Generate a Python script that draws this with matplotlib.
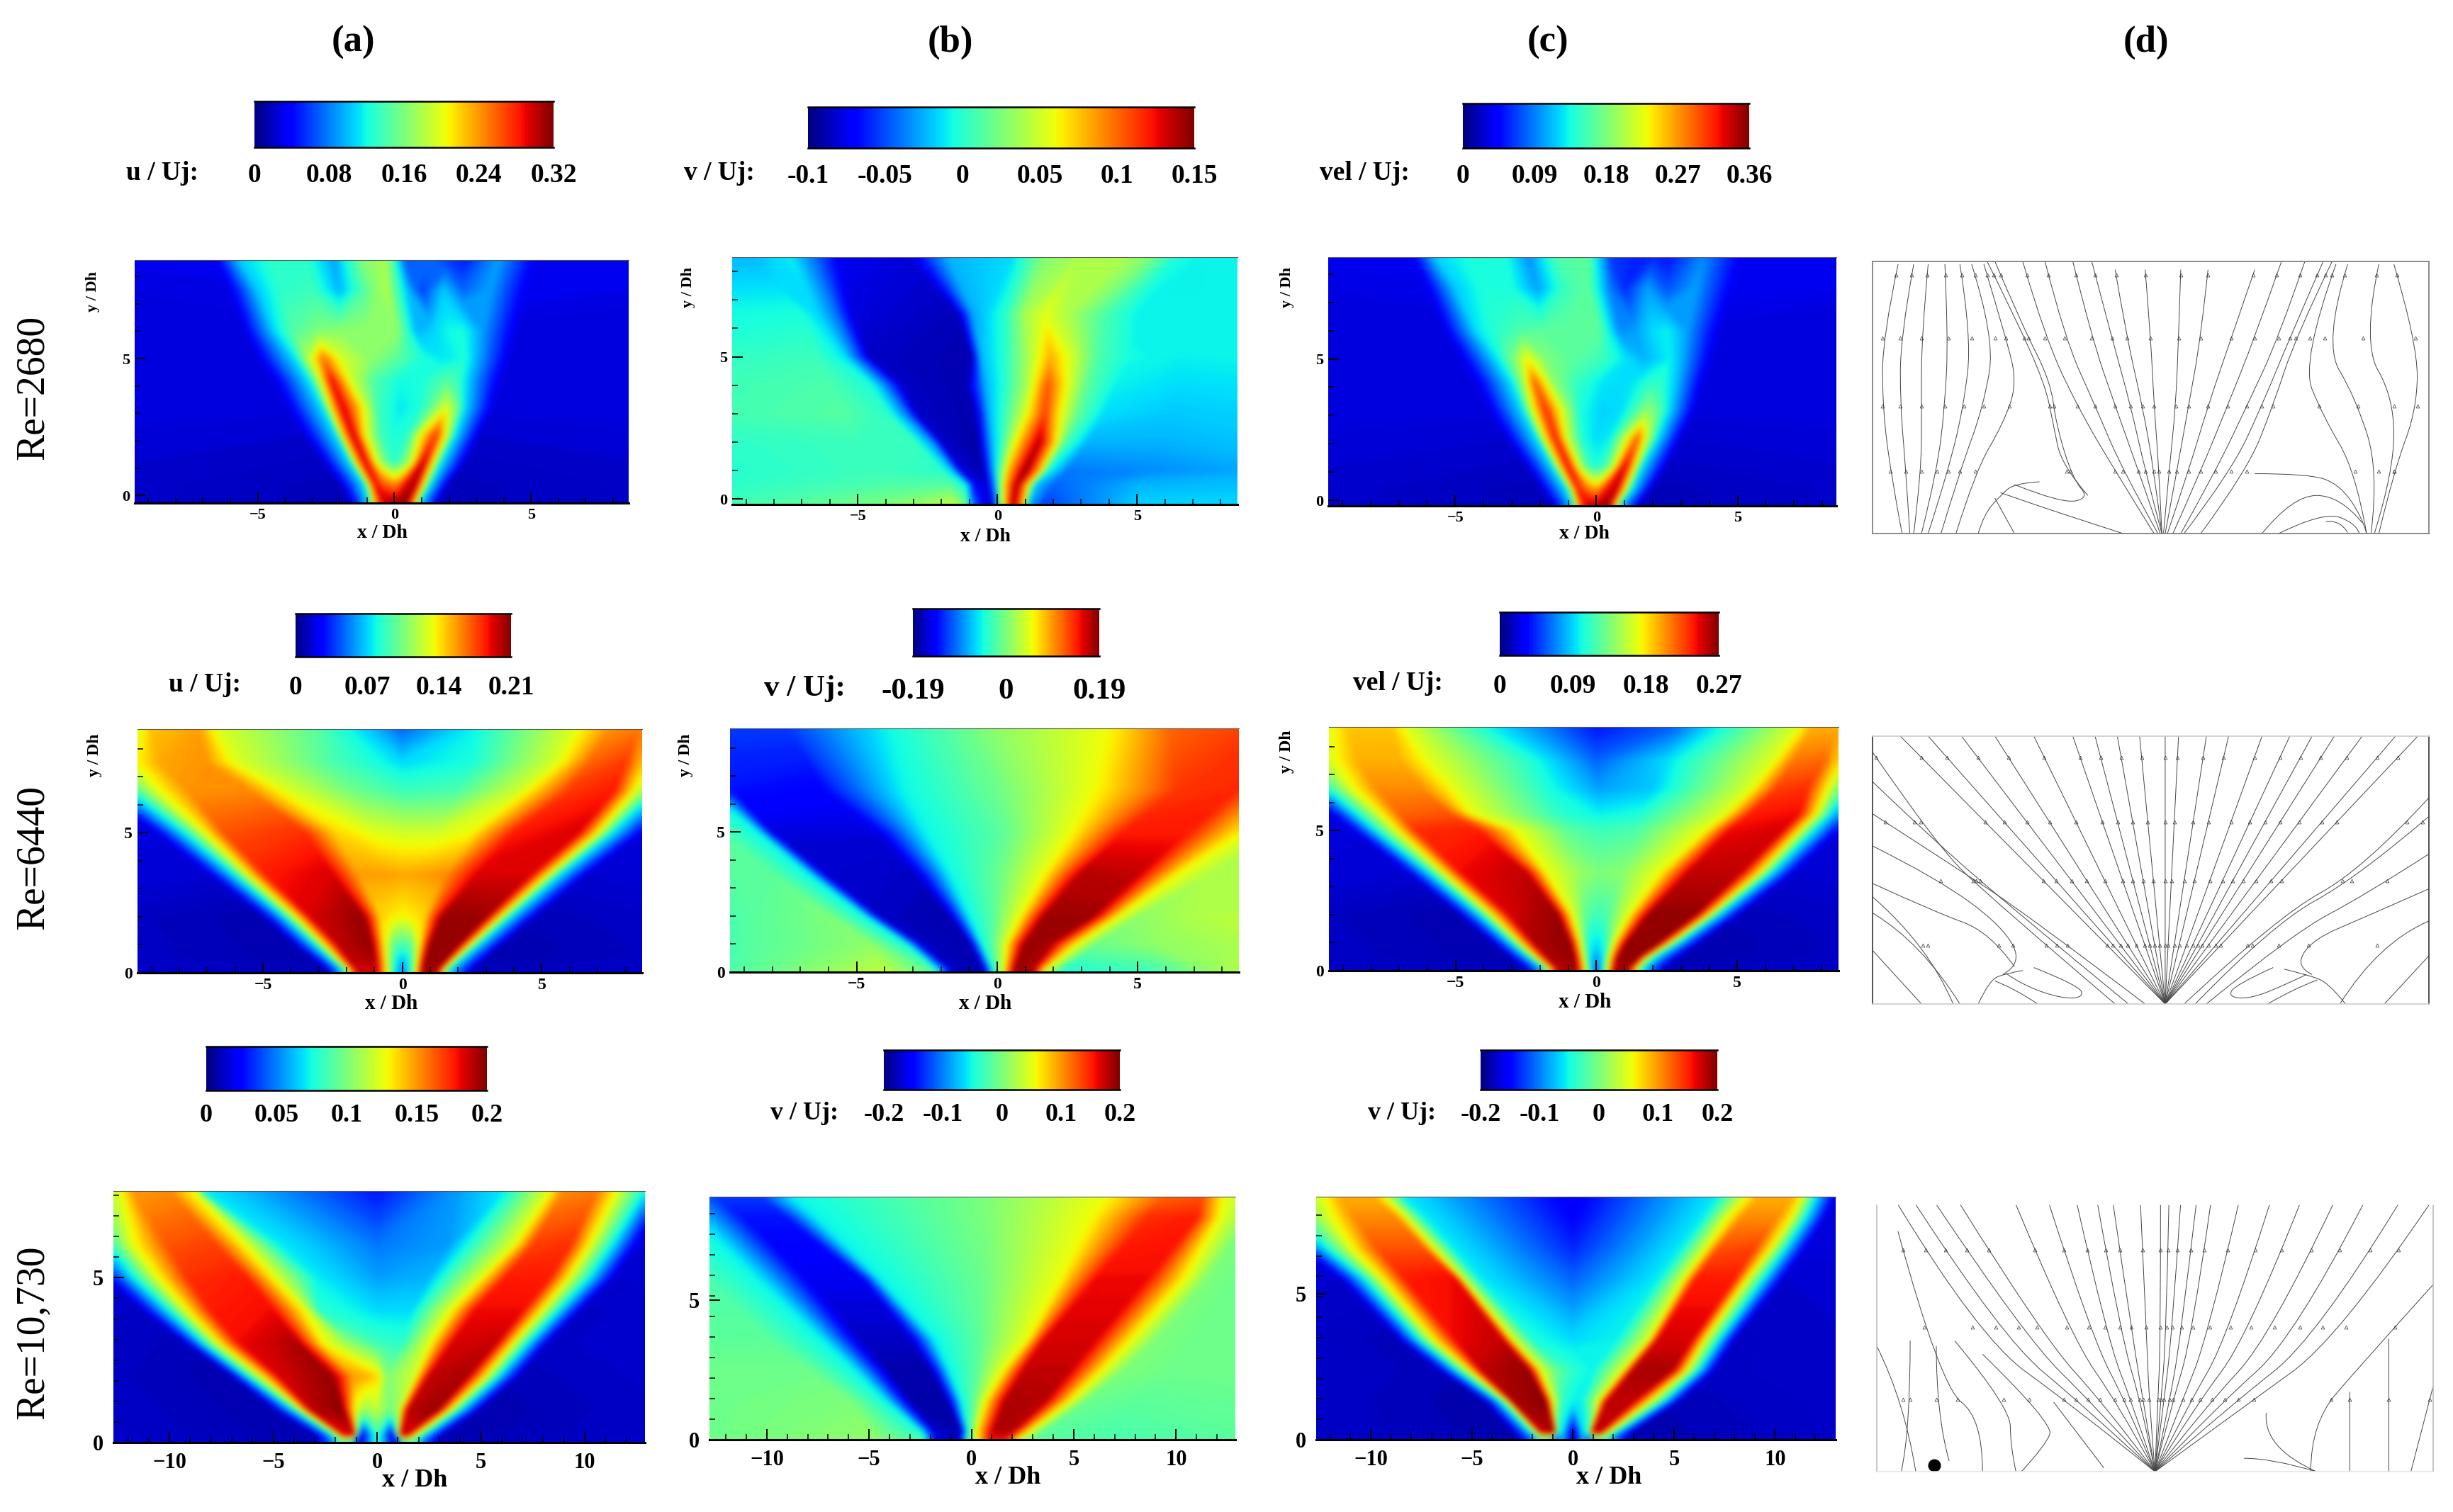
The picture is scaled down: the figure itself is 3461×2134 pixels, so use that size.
import numpy as np
import matplotlib
matplotlib.use('Agg')
import matplotlib.pyplot as plt
from matplotlib.cm import ScalarMappable
from matplotlib.colors import Normalize
from matplotlib.path import Path
from matplotlib.patches import PathPatch

W, H = 3462, 2134
plt.rcParams['font.family'] = ['Liberation Serif', 'DejaVu Serif']

# Champs : x des reperes de couleur a chaque y, valeur en % de l'echelle
# Re=2680, u
y_u1 = [-0.28, 0.4, 1.2, 2.2, 3.2, 4.2, 5, 6, 7.5, 8.6]
x_u1 = [[-16,-1.6,-0.9,-0.75,-0.4,-0.2,-0.1,0,0.1,0.2,0.4,0.75,0.9,1.6,16],
        [-16,-2,-1.1,-0.9,-0.7,-0.4,-0.2,0,0.2,0.4,0.75,1.05,1.3,2,16],
        [-16,-2.6,-1.6,-1.4,-1.05,-0.7,-0.4,0,0.4,0.7,1.05,1.4,1.7,2.6,16],
        [-16,-3.3,-2.1,-1.9,-1.5,-1.1,-0.5,0,0.5,1,1.5,1.9,2.2,3.1,16],
        [-16,-3.9,-2.6,-2.3,-1.9,-1.3,-0.6,0.2,0.9,1.4,1.9,2.25,2.6,3.6,16],
        [-16,-4.4,-3.1,-2.7,-2.3,-1.6,-0.8,0.2,1,1.5,1.9,2.3,2.8,3.9,16],
        [-16,-5,-3.6,-3.2,-2.6,-1.9,-0.9,0.2,1.1,1.7,2.2,2.6,3,4.2,16],
        [-16,-5.5,-4.3,-3.7,-2.8,-2,-1,0.1,0.8,1.4,2,2.5,3.2,4.5,16],
        [-16,-6,-5,-4.2,-3,-2,-1.1,-0.3,0.5,1,1.8,2.5,3.5,4.8,16],
        [-16,-6.5,-5.7,-4.5,-3.2,-2.2,-1.2,-0.3,0.4,1.3,1.9,2.6,3.8,5.2,16]]
z_u1 = [[8,5,35,65,92,97,97,97,98,98,98,65,35,5,8],
        [8,5,35,65,90,80,80,75,80,90,96,65,35,5,8],
        [8,6,35,65,92,65,50,40,50,65,95,65,35,6,8],
        [8,7,35,65,93,65,42,38,40,65,85,62,35,7,8],
        [8,8,35,65,92,70,42,35,38,48,62,50,33,8,8],
        [8,8,35,60,90,60,45,37,38,42,45,42,30,8,8],
        [8,8,35,55,78,60,52,45,38,35,36,38,30,8,8],
        [8,8,35,45,50,52,52,52,30,33,37,38,28,8,8],
        [8,9,32,40,42,30,45,56,30,18,32,22,28,10,8],
        [9,10,32,40,40,28,50,55,20,22,18,15,28,10,9]]

# Re=2680, v
y_v1 = [-0.19, 0.5, 1, 2, 3, 4, 5, 6.5, 8.6]
x_v1 = [[-16,-4,-1.6,-1.2,-0.9,-0.3,-0.05,0.1,0.3,0.55,0.9,1.1,1.6,5,16],
        [-16,-4,-1.7,-1.1,-0.85,-0.4,-0.1,0.1,0.3,0.7,1.1,1.35,2,5,16],
        [-16,-4.5,-2,-1.6,-1.3,-0.5,-0.15,0.15,0.4,1,1.5,1.8,2.5,5.5,16],
        [-16,-5,-3,-2.3,-2,-0.7,-0.2,0.2,0.6,1.5,2.1,2.4,3.2,6,16],
        [-16,-5.5,-3.9,-3.2,-2.9,-0.8,-0.3,0.2,0.9,1.7,2.3,2.9,3.8,6.2,16],
        [-16,-6,-4.5,-3.9,-3.4,-1.1,-0.4,0.3,1.1,1.8,2.6,3.2,4.2,6.5,16],
        [-16,-6.5,-5.5,-4.9,-4.6,-0.9,-0.6,0.3,1.1,1.9,2.8,3.6,4.8,6.5,16],
        [-16,-7,-6.4,-5.8,-5.2,-1.4,-0.9,0.3,1,1.7,2.6,3.8,5,7,16],
        [-16,-8.8,-7.5,-6.8,-5.7,-3.2,-1.8,0.6,1.7,3,4.5,5.6,6.5,7.5,16]]
z_v1 = [[35,50,58,50,25,5,20,50,70,96,70,30,18,33,33],
        [36,44,45,35,12,6,25,50,70,96,65,32,22,30,33],
        [36,42,40,30,8,4,28,50,70,98,70,38,24,26,34],
        [38,42,42,25,6,3,30,42,62,95,65,45,30,30,35],
        [40,45,40,22,6,4,30,40,58,84,62,46,34,32,35],
        [40,44,38,22,6,4,30,40,56,82,60,46,36,34,36],
        [38,42,35,18,6,4,30,40,55,72,58,44,37,36,37],
        [36,38,33,24,8,5,28,40,55,62,55,44,36,36,37],
        [30,30,36,26,10,8,30,34,50,55,56,50,38,36,37]]

# Re=2680, vel
y_m1 = [-0.2, 0.4, 1.2, 2.2, 3.2, 4.2, 5, 6, 7.5, 8.6]
x_m1 = [[-16,-1.5,-0.8,-0.68,-0.4,-0.2,-0.1,0,0.1,0.2,0.4,0.65,0.8,1.5,16],
        [-16,-2,-1.05,-0.85,-0.65,-0.35,-0.15,0,0.15,0.35,0.7,1,1.25,2,16],
        [-16,-2.5,-1.55,-1.3,-1,-0.65,-0.35,0,0.35,0.65,1,1.35,1.6,2.5,16],
        [-16,-3.2,-2.1,-1.85,-1.45,-1.05,-0.5,0,0.5,0.95,1.45,1.8,2.15,3,16],
        [-16,-3.8,-2.6,-2.25,-1.8,-1.25,-0.6,0.2,0.9,1.35,1.8,2.2,2.6,3.5,16],
        [-16,-4.3,-3,-2.6,-2.2,-1.55,-0.8,0.2,1,1.5,1.9,2.3,2.8,3.8,16],
        [-16,-4.8,-3.5,-3,-2.45,-1.8,-0.9,0.2,1.1,1.7,2.2,2.6,3,4.1,16],
        [-16,-5.4,-4.2,-3.5,-2.7,-1.9,-1,0.1,0.8,1.4,2,2.5,3.2,4.4,16],
        [-16,-6,-5,-4.1,-3,-2.1,-1.1,-0.3,0.5,1,1.8,2.5,3.5,4.8,16],
        [-16,-6.5,-5.7,-4.5,-3.2,-2.4,-1.4,-0.3,0.5,1.3,2,2.6,3.8,5.2,16]]
z_m1 = [[8,5,35,65,90,95,96,96,97,97,97,65,35,5,8],
        [8,5,35,65,88,78,75,72,78,88,94,65,35,5,8],
        [8,6,35,65,90,62,44,38,44,62,92,65,35,6,8],
        [8,7,35,62,88,60,38,34,36,55,80,58,35,7,8],
        [8,8,35,62,86,62,38,33,34,42,52,46,33,8,8],
        [8,8,35,54,80,52,42,35,34,36,40,40,32,8,8],
        [8,8,35,48,64,50,46,42,34,30,33,36,30,8,8],
        [8,8,35,40,44,46,46,46,26,28,34,36,28,8,8],
        [8,9,32,38,38,28,42,46,24,16,28,20,28,10,8],
        [9,10,33,38,38,26,44,46,18,16,16,14,26,10,9]]

# Re=6440, u
y_u2 = [0, 0.5, 1, 2, 3.5, 5, 6.5, 7.5, 8.7]
x_u2 = [[-16,-2.6,-2,-1.8,-1.55,-0.9,-0.57,-0.28,0,0.25,0.5,0.72,1.15,1.35,1.57,2.4,16],
        [-16,-3.2,-2.55,-2.3,-1.95,-1,-0.6,-0.3,0,0.3,0.55,0.85,1.55,1.85,2.1,3,16],
        [-16,-3.9,-3.1,-2.8,-2.3,-1.1,-0.65,-0.3,0,0.3,0.62,1,2,2.4,2.7,3.6,16],
        [-16,-5,-4.2,-3.8,-3.3,-1.4,-0.8,-0.4,0,0.4,0.8,1.45,3,3.5,3.85,4.8,16],
        [-16,-6.9,-6,-5.5,-4.9,-2.5,-1.6,-0.6,0.1,0.8,1.6,2.7,4.6,5.2,5.6,6.6,16],
        [-16,-8.8,-7.8,-7.1,-6.4,-3.5,-2.4,-1,0.1,1.2,2.5,4,6.3,7,7.5,8.6,16],
        [-16,-11,-9.8,-8.8,-7.7,-5.5,-4.2,-1.7,0.1,2,4.2,6,7.6,8.3,9.1,10.3,16],
        [-16,-12.5,-11,-9.7,-8.7,-7,-6,-2.5,0,2.5,5.6,6.7,8,8.8,9.8,11,16],
        [-16,-14,-12.5,-9.4,-9,-7.3,-6.7,-3,0,2.5,6.2,7.4,8.5,9.3,10.3,11.5,16]]
z_u2 = [[8,5,36,64,92,92,64,36,22,36,64,96,96,64,36,5,8],
        [8,4,36,64,94,96,64,40,30,40,64,98,98,64,36,4,8],
        [8,4,36,64,94,98,64,46,42,46,64,98,98,64,36,4,8],
        [8,4,36,64,92,98,68,66,64,66,68,98,97,64,36,5,8],
        [8,7,36,64,88,92,74,74,73,74,76,92,92,64,36,7,8],
        [8,8,36,62,82,86,68,62,60,60,64,88,92,64,36,8,8],
        [8,8,36,62,75,76,62,48,42,44,60,85,88,64,36,8,8],
        [8,8,36,62,73,75,62,44,34,38,62,80,85,64,36,8,8],
        [8,8,36,62,70,74,62,45,22,36,62,75,78,64,36,8,8]]

# Re=6440, v
y_v2 = [0, 1, 2, 3.5, 5, 6.5, 8.7]
x_v2 = [[-16,-9.5,-4,-2.2,-1.5,-0.45,-0.12,0.05,0.25,0.6,1.2,1.55,2.2,5.5,9],
        [-16,-9.5,-4.5,-3.2,-2.7,-0.95,-0.55,0,0.35,1,1.9,2.8,3.5,5.5,9],
        [-16,-9.5,-6,-4.7,-4.2,-1.7,-1,-0.1,0.85,1.7,3.4,4.3,5,7,9],
        [-16,-12,-8,-6.7,-6.1,-2.9,-1.7,0.1,1.7,3,5,6.4,7.5,9,16],
        [-16,-13,-10,-8.5,-8,-4.3,-2.6,0.2,2.7,4.5,6.8,8.7,10,11,16],
        [-16,-14,-11.5,-10.3,-9.5,-6.2,-3.4,0,3.5,6.4,8.5,10.5,11.5,13,16],
        [-16,-15,-14,-12,-11,-7.4,-4,0,4,6.2,10,12,13,14,16]]
z_v2 = [[44,44,58,45,6,4,36,50,64,97,96,64,38,42,58],
        [44,44,52,36,6,4,36,50,64,98,96,64,48,52,56],
        [44,44,50,36,6,4,36,46,64,97,97,64,52,56,58],
        [44,44,46,36,7,6,36,48,64,95,94,64,56,56,56],
        [46,46,46,36,8,8,36,46,64,88,88,64,56,56,56],
        [46,46,46,36,14,12,36,48,64,85,87,64,56,56,56],
        [46,46,46,36,18,18,36,52,64,80,86,64,56,56,56]]

# Re=6440, vel
y_m2 = [0, 0.5, 1, 2, 3.5, 5, 5.6, 6.5, 7.5, 8.7]
x_m2 = [[-16,-2.4,-1.75,-1.55,-1.3,-0.7,-0.42,-0.2,0,0.2,0.42,0.65,1.05,1.3,1.55,2.3,16],
        [-16,-3.1,-2.4,-2.15,-1.75,-0.8,-0.5,-0.25,0,0.25,0.5,0.8,1.5,1.8,2.1,3,16],
        [-16,-3.7,-3,-2.7,-2.2,-0.95,-0.6,-0.3,0,0.3,0.67,1.1,2.2,2.6,2.9,3.7,16],
        [-16,-4.9,-4.1,-3.7,-3.1,-1.4,-0.9,-0.4,0,0.4,1.2,1.9,3.5,4,4.3,5.1,16],
        [-16,-6.7,-5.9,-5.4,-4.8,-2.5,-1.8,-0.7,0.1,1,2.3,3.3,5.1,5.8,6.2,7,16],
        [-16,-8.6,-7.8,-7.1,-6.4,-4.2,-2.9,-1,0.1,1.4,3.9,4.7,6.6,7.2,7.7,8.6,16],
        [-16,-9.4,-8.5,-7.7,-7,-5.2,-4.5,-1.3,0.1,1.5,4.6,5.5,7.2,7.8,8.3,9.2,16],
        [-16,-10.6,-9.6,-8.7,-7.8,-6.2,-5,-1.7,0.1,2,5.5,6.4,7.5,8.2,8.9,10,16],
        [-16,-12,-10.8,-9.4,-8.5,-7,-5.9,-2.2,0,2.5,6.3,7,8.1,8.7,9.4,10.5,16],
        [-16,-13,-11.5,-9.5,-8.8,-7.3,-6.8,-3.8,0,2.8,7.2,7.7,8.6,9.1,10,11,16]]
z_m2 = [[8,5,36,64,94,96,64,36,16,36,64,96,96,64,36,5,8],
        [8,4,36,64,96,98,64,36,26,36,64,98,98,64,36,4,8],
        [8,4,36,64,96,98,64,38,34,38,64,98,98,64,36,4,8],
        [8,4,36,64,92,98,64,46,42,44,64,98,98,64,36,5,8],
        [8,7,36,64,90,94,64,54,50,52,64,94,94,64,36,7,8],
        [8,8,36,62,86,88,64,46,42,44,64,90,92,64,36,8,8],
        [8,8,36,62,80,82,64,40,36,38,62,88,90,64,36,8,8],
        [8,8,36,62,76,76,62,38,28,32,62,84,86,64,36,8,8],
        [8,8,36,62,72,72,62,38,22,34,62,78,80,64,36,8,8],
        [8,8,36,62,70,70,62,36,14,22,62,72,72,64,36,8,8]]

# Re=10,730, u
y_u3 = [0, 0.25, 1, 2, 3, 4, 5, 6, 7.63]
x_u3 = [[-20,-3,-2.2,-1.9,-1.7,-1.2,-0.95,-0.8,0,0.8,1,1.2,1.6,1.9,2.2,3,20],
        [-20,-3,-2.2,-1.8,-1.65,-1.1,-0.95,-0.75,0,0.75,0.95,1.15,1.45,1.8,2.3,3.2,20],
        [-20,-5,-4,-3.6,-3.2,-1.7,-1.05,-0.6,0,0.6,1.05,1.5,2.9,3.5,4,5,20],
        [-20,-7,-6.2,-5.5,-4.7,-2.2,-1.2,-0.5,0,0.5,1.8,2.5,4.3,5.2,5.8,6.8,20],
        [-20,-9.2,-8.3,-7.6,-6.6,-3.8,-2.7,-1.5,0,1.2,2.6,3.6,5.7,6.5,7.2,8.2,20],
        [-20,-11.3,-10,-9.2,-8,-5,-3.4,-2.8,0,1.7,3.6,4.7,7,7.9,8.7,9.8,20],
        [-20,-13,-11.7,-10.6,-9.1,-6.3,-4.9,-3,0,2.5,5,6.2,8.3,9.2,10.2,11.4,20],
        [-20,-14.5,-13,-11.8,-10.1,-7.8,-6.3,-4.8,0,3.5,6.6,7.5,9.3,10.2,11.3,12.5,20],
        [-20,-16,-14.5,-12.4,-11.8,-10,-8.8,-8.5,0,6.2,8.3,9,10.6,11.5,12.9,14,20]]
z_u3 = [[8,5,20,30,30,20,5,10,42,10,5,20,30,30,20,5,8],
        [8,4,36,66,90,92,40,8,42,8,40,92,92,66,36,4,8],
        [8,4,36,64,94,99,62,52,58,48,55,94,98,64,36,4,8],
        [8,4,36,64,92,98,74,72,68,50,60,94,96,64,36,5,8],
        [8,5,36,64,90,96,66,54,42,40,64,92,94,64,36,6,8],
        [8,6,36,62,88,90,62,40,34,34,64,90,90,64,36,6,8],
        [8,7,36,62,86,88,62,36,28,30,62,88,88,64,36,7,8],
        [8,8,36,62,82,84,62,36,24,28,62,84,86,64,36,8,8],
        [8,8,36,62,74,76,62,36,14,36,62,76,78,64,36,8,8]]

# Re=10,730, v
y_v3 = [0, 0.3, 1.4, 2.5, 3.6, 5.76, 7.95, 8.69]
x_v3 = [[-20,-12.8,-5,-2.4,-1.7,-0.6,-0.25,0.05,0.2,0.8,1.6,2.2,3,7,20],
        [-20,-12.8,-5,-2.5,-1.8,-0.5,-0.2,0.05,0.25,1.1,2,2.8,3.5,7,20],
        [-20,-12.8,-6,-4.2,-3,-1.2,-0.5,0.2,0.7,1.7,3.6,4.8,5.6,8,20],
        [-20,-12.8,-8,-5.7,-4.1,-2,-1.1,0.3,1.6,2.6,4.8,6.4,7.4,10,20],
        [-20,-14,-10,-7.3,-5.5,-3,-1.8,0.4,2.8,3.6,6.1,7.8,9,11,20],
        [-20,-16,-13,-10.4,-8,-5.3,-4.5,0.6,4.4,6.1,8.6,10.4,11.5,13,20],
        [-20,-18,-16,-13.5,-11.2,-9,-7.6,0.8,5.9,8.6,11,12.1,13.5,15,20],
        [-20,-19,-17,-14.5,-12.6,-10.3,-8.8,0.8,6.7,9.4,11.3,12.3,14,16,20]]
z_v3 = [[48,48,52,44,10,8,36,50,60,86,86,60,46,44,48],
        [48,48,52,38,6,4,36,50,64,96,95,64,46,44,48],
        [48,48,50,36,4,3,36,48,64,96,95,64,48,46,48],
        [48,48,48,36,4,4,36,46,64,94,94,64,50,48,48],
        [46,46,46,36,6,6,36,46,64,92,92,64,50,48,48],
        [44,44,44,36,10,10,36,48,64,90,90,64,50,48,48],
        [42,42,42,36,14,14,36,50,64,86,88,64,50,48,48],
        [42,42,42,36,18,18,36,50,64,80,82,64,50,48,48]]

# Re=10,730, derniere carte
y_m3 = [0, 0.28, 1.33, 2.38, 3.43, 5.52, 6.57, 7.62, 8.33]
x_m3 = [[-20,-2.8,-2,-1.7,-1.5,-1,-0.8,-0.55,0,0.55,0.8,1,1.4,1.7,2,2.8,20],
        [-20,-3,-2.1,-1.75,-1.6,-0.95,-0.75,-0.5,0,0.5,0.75,1,1.35,1.7,2.2,3,20],
        [-20,-4.4,-3.6,-3.2,-3,-1.4,-1,-0.5,0,0.5,1.3,1.7,3,3.8,4.5,5.3,20],
        [-20,-6.6,-5.7,-5.1,-4.5,-2.2,-1.6,-0.9,0,1,2.5,3,4.9,5.6,6.2,7,20],
        [-20,-8.6,-7.6,-6.9,-5.8,-3.5,-3,-2,0,2.2,3.8,4.2,5.9,6.5,7.2,8,20],
        [-20,-11.5,-10.3,-9.5,-8.3,-5.8,-5.5,-4.7,0,4.3,5.5,6.1,8,8.6,9.4,10.4,20],
        [-20,-13.5,-12.2,-11,-9.7,-7.4,-6.9,-6,0,5.4,6.6,7.2,9,9.8,10.5,11.5,20],
        [-20,-15,-13.8,-12,-10.8,-8.7,-8.3,-7.4,0,6.5,7.6,8.4,10.1,10.8,11.5,12.5,20],
        [-20,-16,-14.8,-12.4,-11.6,-9.9,-9.3,-8.5,0,7.2,8.6,9.2,10.9,11.3,12,13,20]]
z_m3 = [[8,5,20,30,30,20,6,30,5,30,6,20,30,30,20,5,8],
        [8,4,36,66,92,96,40,34,6,34,40,94,94,66,36,4,8],
        [8,4,36,64,96,99,62,40,36,36,62,94,94,64,36,5,8],
        [8,5,36,64,94,98,62,48,40,36,62,96,96,64,36,6,8],
        [8,5,36,64,90,94,62,38,34,36,62,92,92,64,36,6,8],
        [8,7,36,62,88,90,62,36,22,36,62,88,88,64,36,7,8],
        [8,8,36,62,82,82,62,36,16,36,62,82,84,64,36,8,8],
        [8,8,36,62,76,76,62,36,12,36,62,76,76,64,36,8,8],
        [8,8,36,62,72,72,62,36,10,36,62,72,72,64,36,8,8]]

# Lignes de courant, en % du cadre
stream1 = [[(4.6,99),(1.8,72),(1.8,47),(3.2,23),(5.3,0)], [(7.4,99),(5,72),(5,47),(6,23),(6.7,0)],
           [(10,99),(8.8,72),(8.8,47),(8.8,23),(7.4,0)], [(13,99),(13.6,72),(13,47),(11.6,23),(8.8,0)],
           [(15.7,99),(17.8,72),(16.4,47),(13.6,23),(10,0)], [(17.8,99),(22,72),(20,47),(15.7,23),(12.3,0)],
           [(20,99),(24,72),(26,55),(23.4,40),(18.5,23),(15,0)], [(20.6,100),(25.5,80),(31,55),(32.5,40),(34,25),(38.7,14)],
           [(22,100),(27,76),(32,56),(33,40),(36,20),(39,13),(34,11),(25.5,18)], [(19,0),(20,7),(23,14),(25.5,18.5),(30,19)],
           [(23,15),(30,10),(39,4),(45,0)], [(22,13),(25.5,0)],
           [(27,100),(31,72),(37,46),(43.6,23),(50.6,0)], [(31,100),(34.5,72),(40,47),(45,23),(51.3,0)],
           [(36,100),(39.4,72),(43.6,47),(47.8,23),(51.7,0)], [(39.4,100),(43,72),(46.4,47),(49,23),(52,0)],
           [(43.6,97),(45.7,72),(48.5,47),(50.6,23),(52,0)], [(49,97),(50,72),(50.6,47),(51.5,23),(52,0)],
           [(55.4,97),(55,72),(54.5,47),(53.3,23),(52.3,0)], [(60.3,97),(59,72),(56.8,47),(54.7,23),(52.6,0)],
           [(68.7,97),(64.5,72),(60.3,47),(56.8,23),(53,0)], [(73.5,100),(68.7,72),(63.8,47),(59,23),(54,0)],
           [(77.7,100),(73,72),(67.3,47),(61.7,23),(55.4,0)], [(81,100),(75,72),(70,47),(64.5,23),(56,0)],
           [(82.6,100),(76,72),(72,47),(67.3,23),(59,0)], [(83.3,99),(77,63),(81,43),(86.8,23),(88.8,0)],
           [(85.4,99),(81,70),(86.8,50),(91,23),(89.6,0)], [(91,99),(88,70),(93.7,50),(93.7,23),(90.2,0)],
           [(93.7,99),(97.9,70),(97.9,46),(93.7,23),(91,0)], [(68.7,22),(78.4,22),(84,18),(88,6),(88.8,0)],
           [(70,0),(75.6,14),(84,14),(88,4)], [(73,0),(81,8),(86.8,4),(87.5,0)], [(81.5,4.4),(84,5),(85.4,0.4)]]
fan2_top = [5, 10, 16, 22, 29, 36, 40, 44, 48, 52.6, 55, 60, 64, 70, 75, 79, 83, 88, 94, 98]
stream2 = [[(0,94),(11.6,59),(21,40),(43.6,0)], [(0,83),(10,63),(25.5,35),(46,0)], [(0,71),(15.7,50),(28,33),(49,0)],
           [(0,59),(11.6,47),(23.4,29),(27,15),(23.4,11)], [(0,45),(11.6,34),(21,27),(25.5,14)], [(0,34),(8.8,23),(15.7,0)],
           [(0,20),(8.8,0)], [(0,40),(10,22),(14.5,0)], [(19,0),(21,9),(24,11.4),(27,12.5)],
           [(24,11.4),(27,7),(34,2),(38,2.5),(37,7),(29,13.6)], [(29.7,0),(25.5,5.8),(22,8.6)],
           [(100,77),(88,50),(73,33),(56,0)], [(100,70),(87,47),(72,30),(58,0)], [(100,56),(88,40),(76,27),(60,0)],
           [(100,43),(88,32),(79,24),(76,14),(79,11)], [(100,31),(91,23),(84,0)], [(100,18),(92,0)],
           [(85,0),(82,8),(78,11),(74,13)], [(78,11),(74,7),(68,2),(64,2.5),(65,7),(72,13.6)], [(71,0),(76,6),(80,9)]]
stream3 = [[(3.8,100),(18.4,50),(35,25),(50,0)], [(7,100),(22.6,50),(37,25),(50,0)], [(10.7,100),(26.8,50),(39,25),(50,0)],
           [(15,100),(30,50),(41,25),(50,0)], [(25,100),(35,50),(43.5,25),(50,0)], [(31,100),(38.7,50),(45,25),(50,0)],
           [(36,100),(41.4,50),(46,25),(50,0)], [(39.7,100),(44,50),(47.6,25),(50,0)], [(42.5,100),(46,50),(48,25),(50,0)],
           [(47.4,100),(48.5,50),(49,25),(50,0)], [(51,100),(51,50),(50.5,25),(50,0)], [(52.5,100),(52,50),(51,25),(50,0)],
           [(54.6,100),(53,50),(51.5,25),(50,0)], [(57.4,100),(54.6,50),(52.5,25),(50,0)], [(60,100),(56.6,50),(53,25),(50,0)],
           [(65,100),(59.4,50),(54.6,25),(50,0)], [(70.6,100),(63,50),(56,25),(50,0)], [(76,100),(66.5,50),(57.4,25),(50,0)],
           [(82,100),(70.6,50),(59.4,25),(50,0)], [(87.4,100),(75,50),(61.5,25),(50,0)], [(93.7,100),(79,50),(63.7,25),(50,0)],
           [(99.3,100),(83,50),(66.5,25),(50,0)], [(0,47),(5,26),(7,0)], [(6,49),(6,15),(4.4,0)], [(10.7,47),(10.7,21),(13,4)],
           [(3.8,90),(11.4,32),(19,20),(19,0)], [(14,49),(24,24),(24,10),(25,0)], [(19,44),(31.8,18),(30.4,10),(26,0)],
           [(31.8,26),(40.8,1.4)], [(70,22),(69.4,9),(79,0)], [(66,5),(71,5),(79,0)], [(85,30),(85,0)], [(92,50),(92,0)],
           [(100,32),(96,0)], [(100,70),(87,40),(78,18),(78,0)]]
blob3 = (10.3, 2.5)

# Echelles et textes des barres de couleur
bars = [
    ((361,143,783,208), 0, 0.32, [0,0.08,0.16,0.24,0.32], ['0','0.08','0.16','0.24','0.32'], 'u / Uj:', (229,244), 27, 16),
    ((1142,151,1687,209), -0.1, 0.15, [-0.1,-0.05,0,0.05,0.1,0.15], ['-0.1','-0.05','0','0.05','0.1','0.15'], 'v / Uj:', (1015,244), 27, 16),
    ((2066,146,2470,209), 0, 0.36, [0,0.09,0.18,0.27,0.36], ['0','0.09','0.18','0.27','0.36'], 'vel / Uj:', (1925,244), 27, 16),
    ((419,866,723,927), 0, 0.21, [0,0.07,0.14,0.21], ['0','0.07','0.14','0.21'], 'u / Uj:', (289,967), 27, 19),
    ((1290,859,1553,926), -0.19, 0.19, [-0.19,0,0.19], ['-0.19','0','0.19'], 'v / Uj:', (1135,972), 31, 22),
    ((2118,864,2427,925), 0, 0.27, [0,0.09,0.18,0.27], ['0','0.09','0.18','0.27'], 'vel / Uj:', (1972,964), 27, 19),
    ((293,1477,689,1539), 0, 0.2, [0,0.05,0.1,0.15,0.2], ['0','0.05','0.1','0.15','0.2'], '', (0,0), 26, 14),
    ((1249,1482,1582,1538), -0.2, 0.2, [-0.2,-0.1,0,0.1,0.2], ['-0.2','-0.1','0','0.1','0.2'], 'v / Uj:', (1135,1571), 26, 14),
    ((2091,1482,2425,1538), -0.2, 0.2, [-0.2,-0.1,0,0.1,0.2], ['-0.2','-0.1','0','0.1','0.2'], 'v / Uj:', (1978,1571), 26, 14),
]

# Cartes : donnees, cadre en pixels, limites, position des textes
maps = [
    (y_u1,x_u1,z_u1,0,0.32,(192,367,889,710),(-9.5,8.57),(-0.28,8.6),(539,752),(131,411),17),
    (y_v1,x_v1,z_v1,-0.1,0.15,(1035,363,1748,712),(-9.5,8.6),(-0.19,8.5),(1390,758),(971,406),17),
    (y_m1,x_m1,z_m1,0,0.36,(1876,363,2593,714),(-9.5,8.5),(-0.2,8.6),(2235,754),(1816,406),17),
    (y_u2,x_u2,z_u2,0,0.21,(196,1029,908,1373),(-9.5,8.6),(0,8.7),(552,1416),(134,1066),18),
    (y_v2,x_v2,z_v2,-0.19,0.19,(1032,1028,1750,1372),(-9.5,8.6),(0,8.7),(1390,1416),(968,1066),18),
    (y_m2,x_m2,z_m2,0,0.27,(1877,1026,2596,1370),(-9.5,8.6),(0,8.7),(2236,1414),(1816,1061),18),
    (y_u3,x_u3,z_u3,0,0.2,(162,1681,912,2036),(-12.7,12.9),(0,7.63),(585,2089),None,23),
    (y_v3,x_v3,z_v3,-0.2,0.2,(1003,1689,1745,2032),(-12.8,12.9),(0,8.69),(1422,2085),None,23),
    (y_m3,x_m3,z_m3,-0.2,0.2,(1859,1689,2592,2032),(-12.7,13),(0,8.33),(2270,2085),None,23),
]
y_minor = [1, 1, 1, 1, 1, 1, 0.625, 0.735, 0.70]


def add_box(fig, box):
    x0, y0, x1, y1 = box
    x0, x1 = x0 - 2, x1 - 2
    return fig.add_axes([x0 / W, 1 - y1 / H, (x1 - x0) / W, (y1 - y0) / H])


def put(fig, pos, txt, size, **kw):
    fig.text(pos[0] / W, 1 - pos[1] / H, txt, fontsize=size, ha='center', va='center', **kw)


def box_blur(a, r, axis):
    # moyenne glissante de largeur 2r+1
    a = np.moveaxis(a, axis, 0)
    c = np.cumsum(np.concatenate([np.zeros((1,) + a.shape[1:]), a], axis=0), axis=0)
    n = a.shape[0]
    hi = np.minimum(np.arange(n) + r + 1, n)
    lo = np.maximum(np.arange(n) - r, 0)
    return np.moveaxis(c[hi] - c[lo], 0, axis)


def soft(img, dpi):
    # flou normalise par alpha : les bords de la carte ne s'estompent pas
    rgb, al = img[..., :3], img[..., 3:]
    num, den = rgb * al, al.copy()
    for _ in range(2):
        for axis in (0, 1):
            num = box_blur(num, 4, axis)
            den = box_blur(den, 4, axis)
    out = np.concatenate([num / np.maximum(den, 1e-6), al], axis=2)
    return np.clip(out, 0, 1), 0, 0


def curve(line):
    # quadratiques passant par les milieux des segments
    pts = np.array(line, dtype=float)
    if len(pts) < 3:
        return Path(pts)
    verts = [pts[0]]
    codes = [Path.MOVETO]
    for k in range(1, len(pts) - 1):
        end = pts[k + 1] if k == len(pts) - 2 else (pts[k] + pts[k + 1]) / 2
        verts += [pts[k], end]
        codes += [Path.CURVE3, Path.CURVE3]
    return Path(verts, codes)


fig = plt.figure(figsize=(W / 100, H / 100), dpi=100)

for lab, pos in zip(['(a)', '(b)', '(c)', '(d)'], [(498, 60), (1341, 60), (2184, 60), (3028, 60)]):
    put(fig, pos, lab, 38, fontweight='bold')
for lab, pos in zip(['Re=2680', 'Re=6440', 'Re=10,730'], [(47, 547), (47, 1210), (47, 1880)]):
    put(fig, pos, lab, 40, rotation=90)

for box, lo, hi, ticks, labels, name, name_pos, size, pad in bars:
    cax = add_box(fig, box)
    sm = ScalarMappable(Normalize(lo, hi), 'jet')
    cb = fig.colorbar(sm, cax=cax, orientation='horizontal', ticks=ticks)
    cb.ax.set_xticklabels(labels, fontsize=size, fontweight='bold')
    cb.ax.tick_params(length=0, pad=pad)
    cb.outline.set_visible(False)
    for side in ['top', 'bottom']:
        cax.spines[side].set_visible(True)
        cax.spines[side].set_linewidth(1.8)
    if name:
        put(fig, name_pos, name, size, fontweight='bold')

for i, (ys, xs, zs, lo, hi, box, xlim, ylim, xl_pos, yl_pos, lab_size) in enumerate(maps):
    ax = add_box(fig, box)
    X = np.array(xs, dtype=float)
    Y = np.repeat(np.array(ys, dtype=float)[:, None], X.shape[1], axis=1)
    Z = lo + (hi - lo) * np.array(zs, dtype=float) / 100
    cs = ax.contourf(X, Y, Z, levels=np.linspace(lo, hi, 129), cmap='jet', extend='both')
    cs.set_agg_filter(soft)
    ax.set_xlim(xlim)
    ax.set_ylim(ylim)
    row3 = i >= 6
    ax.set_xticks([-10, -5, 0, 5, 10] if row3 else [-5, 0, 5])
    ax.set_xticks(np.arange(np.ceil(xlim[0]), xlim[1], 1), minor=True)
    ax.set_yticks([0, 5])
    ax.set_yticks(np.arange(0, ylim[1], y_minor[i]), minor=True)
    ax.tick_params(which='major', direction='in', length=11, width=1.4, labelsize=lab_size - 1,
                   pad=10 if row3 else 5)
    ax.tick_params(which='minor', direction='in', length=5.5, width=1.1)
    for lab in ax.get_xticklabels() + ax.get_yticklabels():
        lab.set_fontweight('bold')
    for side in ['left', 'right']:
        ax.spines[side].set_visible(False)
    ax.spines['top'].set_linewidth(0.8)
    ax.spines['top'].set_color('#555555')
    ax.spines['bottom'].set_linewidth(2.2)
    put(fig, xl_pos, 'x / Dh', lab_size + 3, fontweight='bold')
    if yl_pos is not None:
        put(fig, yl_pos, 'y / Dh', lab_size - 1, fontweight='bold', rotation=90)

# Colonne (d)
fan2 = [[(t, 100), (52.6 + (t - 52.6) * 0.5, 50), (52.6, 0)] for t in fan2_top]
panels_d = [((2644, 369, 3429, 753), stream1, [23, 47, 72, 95], ['#777777'] * 4),
            ((2644, 1039, 3429, 1417), stream2 + fan2, [22, 46, 68, 92], ['#333333', '#333333', '#cccccc', '#cccccc']),
            ((2650, 1700, 3435, 2077), stream3, [27, 54, 83], ['#bbbbbb', '#bbbbbb', '#ffffff', '#e5e5e5'])]
for box, lines, rows, edge in panels_d:
    ax = add_box(fig, box)
    ax.set_xlim(0, 100)
    ax.set_ylim(0, 100)
    ax.set_xticks([])
    ax.set_yticks([])
    for side, col in zip(['left', 'right', 'top', 'bottom'], edge):
        ax.spines[side].set_color(col)
        ax.spines[side].set_linewidth(1.2)
    for line in lines:
        u = np.array([p[0] for p in line], dtype=float)
        v = np.array([p[1] for p in line], dtype=float)
        ax.add_patch(PathPatch(curve(line), fc='none', ec='#444444', lw=0.7))
        order = np.argsort(v)
        for r in rows:
            if v.min() < r < v.max():
                ax.plot(np.interp(r, v[order], u[order]), r, marker='^', ms=3.5, mfc='none',
                        mec='#333333', mew=0.5)
    if lines is stream3:
        ax.plot(*blob3, marker='o', ms=12, color='black')

fig.savefig('out.png', dpi=100)
